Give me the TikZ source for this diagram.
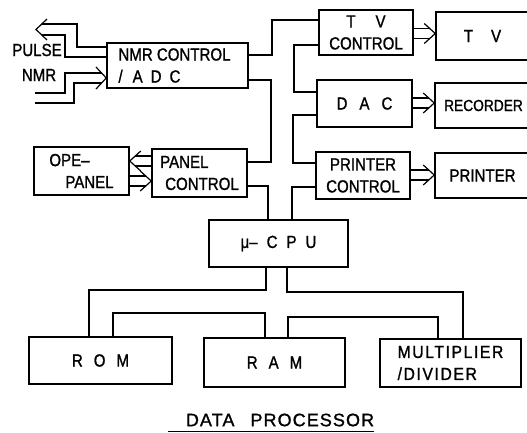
\documentclass[tikz,border=0pt]{standalone}
\usepackage{fontspec}
\setmainfont{Liberation Sans}[FakeStretch=0.86,FakeBold=1.2]
\newfontfamily\titlefont{Liberation Sans}[FakeBold=1.2,LetterSpace=6]
\newfontfamily\widefont{Liberation Sans}[FakeBold=1.2,FakeStretch=0.9,LetterSpace=9]
\usetikzlibrary{calc}
\begin{document}
\begin{tikzpicture}[x=1pt,y=-1pt,
  box/.style={draw,line width=1.5pt,inner sep=0pt,font=\fontsize{17.5}{22}\selectfont},
  wire/.style={line width=1.2pt,line join=miter},
  lbl/.style={inner sep=0pt,font=\fontsize{17.5}{18}\selectfont},
  pics/hollow/.style={code={
    \draw[wire] (-#1,-5) -- (-5.5,-5) (-#1,5) -- (-5.5,5);
    \draw[wire] (-11,-10) -- (0,0) -- (-11,10);
  }},
]
\useasboundingbox (0,0) rectangle (527,432);
\clip (0,0) rectangle (527,432);

% boxes
\node[box,minimum width=141pt,minimum height=45pt,align=left] (nmr) at (177.5,65.5) {\hspace{-6pt}NMR CONTROL\\\hspace{-6pt}/\hspace{10pt}A\hspace{8pt}D\hspace{8pt}C};
\node[box,minimum width=94pt,minimum height=45pt,align=center] (tvc) at (366,32.5) {T\hspace{20pt}V\\CONTROL};
\node[box,minimum width=100pt,minimum height=48pt] (tv) at (486,36) {\hspace{-7pt}T\hspace{18pt}V};
\node[box,minimum width=95pt,minimum height=47pt] (dac) at (364.5,103.5) {D\hspace{12pt}A\hspace{12pt}C};
\node[box,minimum width=100pt,minimum height=45pt] (rec) at (485,105.5) {\hspace{-3pt}\fontsize{16}{18}\selectfont RECORDER};
\node[box,minimum width=94pt,minimum height=47pt,align=center] (prc) at (363,175.5) {PRINTER\\CONTROL};
\node[box,minimum width=100pt,minimum height=45pt] (prn) at (485,175.5) {\hspace{-5pt}PRINTER};
\node[box,minimum width=95pt,minimum height=48pt,align=left] (ope) at (81.5,171) {OPE–\\\hspace{16pt}PANEL};
\node[box,minimum width=95pt,minimum height=48pt,align=left] (pc) at (199.5,173) {PANEL\\\hspace{5pt}CONTROL};
\node[box,minimum width=139pt,minimum height=47pt] (cpu) at (278.5,243.5) {μ–\hspace{9pt}C\hspace{9pt}P\hspace{9pt}U};
\node[box,minimum width=143pt,minimum height=47pt] (rom) at (100.5,360.5) {R\hspace{11pt}O\hspace{11pt}M};
\node[box,minimum width=141pt,minimum height=49pt] (ram) at (274.5,362.5) {R\hspace{11pt}A\hspace{11pt}M};
\node[box,minimum width=141pt,minimum height=48pt,align=left] (mul) at (450.5,363) {\widefont MULTIPLIER\\\widefont /DIVIDER};

% labels
\node[lbl] (pulse) at (37,50) {PULSE};
\node[lbl] (nmrlbl) at (39,75) {NMR};
\node[inner sep=0pt,font=\titlefont\fontsize{18}{20}\selectfont] (title) at (280,420) {DATA\hspace{16pt}PROCESSOR};
\draw[line width=0.8pt] (168,431) -- (title.south east |- 0,431);

% bus wires
\draw[wire] (nmr.east |- 0,55) -- (272,55) |- (tvc.west |- 0,20);
\draw[wire] (nmr.east |- 0,80) -- (271,80) |- (pc.east |- 0,162);
\draw[wire] (pc.east |- 0,186) -| (cpu.north -| 268,0);
\draw[wire] (tvc.west |- 0,45) -- (294,45) |- (dac.west |- 0,92);
\draw[wire] (dac.west |- 0,115) -- (293,115) |- (prc.west |- 0,163);
\draw[wire] (prc.west |- 0,187) -| (cpu.north -| 292,0);
\draw[wire] (cpu.south -| 266,0) |- (89,290) -- (rom.north -| 89,0);
\draw[wire] (cpu.south -| 287,0) |- (463,292) -- (mul.north -| 463,0);
\draw[wire] (rom.north -| 113,0) |- (265,313) -- (ram.north -| 265,0);
\draw[wire] (ram.north -| 288,0) |- (438,317) -- (mul.north -| 438,0);

% hollow arrows
\pic at (tv.west |- 0,33.5) {hollow=23};
\pic at (rec.west |- 0,103) {hollow=23};
\pic at (prn.west |- 0,175) {hollow=25};
\pic[xscale=-1] at (ope.east |- 0,161) {hollow=23};
\pic at (pc.west |- 0,181) {hollow=23};

% PULSE output arrow (bent, hollow)
\draw[wire] (nmr.west |- 0,47) -- (77,47) -- (77,24) -- (41.8,24);
\draw[wire] (nmr.west |- 0,57) -- (65,57) -- (65,35) -- (41.8,35);
\draw[wire] (47,19) -- (36,29.5) -- (47,40);
% NMR input arrow (bent, hollow)
\draw[wire] (35,93) -- (65,93) -- (65,73) -- (101.5,73);
\draw[wire] (35,103) -- (74,103) -- (74,83) -- (101.5,83);
\draw[wire] (96,67) -- (nmr.west |- 0,78) -- (96,89);
\end{tikzpicture}
\end{document}
